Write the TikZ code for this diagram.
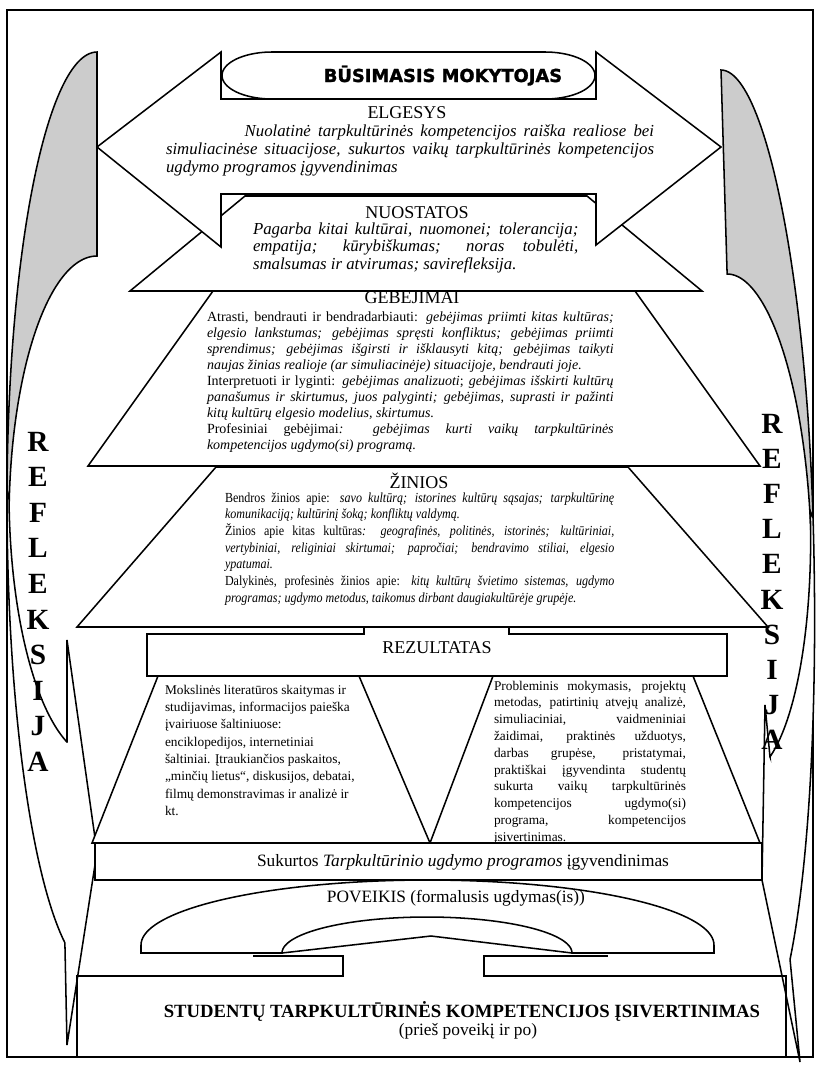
\documentclass[tikz,border=0pt]{standalone}
\usepackage{fontspec}
\setmainfont{Liberation Serif}
\newfontfamily\titlefont[BoldFeatures={FakeBold=1.5}]{DejaVu Sans}
\newfontfamily\condserif[FakeStretch=0.87]{Liberation Serif}
\definecolor{shadegray}{RGB}{204,204,204}
\newlength\bw
\newcommand{\jl}[1]{\hbox to \bw{#1}}
\newcommand{\rl}[1]{\hbox to \bw{#1\hfil}}
\begin{document}
\begin{tikzpicture}[x=0.75pt,y=-0.75pt,line width=1.15pt,
  blk/.style={draw=black,fill=white,line width=1.15pt,line join=miter},
  back/.style={draw=black,fill=shadegray,line width=1.15pt},
  head/.style={inner sep=0,outer sep=0,anchor=base,font=\fontsize{13.5}{15}\selectfont},
  body/.style={inner sep=0,outer sep=0,anchor=base west},
  refl/.style={inner sep=0,outer sep=0,anchor=base,font=\fontsize{22}{26}\selectfont\bfseries}]
\useasboundingbox (0,0) rectangle (816,1089);
% frame
\draw (7,10) rectangle (813,1057);

% ---------- left curved arrow ----------
\path[back] (97,52) -- plot[domain=270:180,samples=60] ({97+90*cos(\x)},{500+448*sin(\x)})
  -- (9,520) -- plot[domain=180:270,samples=60] ({97+88*cos(\x)},{520+264*sin(\x)}) -- cycle;
\path[blk] (7,500) -- plot[domain=180:110.9,samples=60] ({97+90*cos(\x)},{500+474*sin(\x)})
  -- (67,1045) -- (97,852) -- (67,640) -- (67,742)
  -- plot[domain=110:180,samples=60] ({97+88*cos(\x)},{493+265*sin(\x)}) -- cycle;

% ---------- right curved arrow ----------
\path[back] (721,70) -- plot[domain=270:360,samples=60] ({721+0.03*(448+448*sin(\x))+78.6*cos(\x)},{518+448*sin(\x)})
  -- plot[domain=0:-90,samples=60] ({721+0.03*(468+264*sin(\x))+76*cos(\x)},{538+264*sin(\x)}) -- cycle;
\path[blk] (813,518) -- plot[domain=0:57.4,samples=60] ({721+0.03*(448+524*sin(\x))+78.6*cos(\x)},{518+524*sin(\x)})
  -- (800,1062) -- (762,880) -- (765,705) -- (770,757)
  -- plot[domain=68.1:0,samples=60] ({721+0.03*(441+265*sin(\x))+76*cos(\x)},{511+265*sin(\x)}) -- cycle;

% ---------- ZINIOS ----------
\path[blk] (216,467) -- (628,467) -- (768,627) -- (77,627) -- cycle;
\node[head] (zinh) at (419,488) {ŽINIOS};
\node[body,font=\condserif\fontsize{10.4}{12.5}\selectfont] (zinb) at (225,502) {\vtop{\setlength\bw{292pt}%
\jl{Bendros žinios apie: \textit{savo kultūrą; istorines kultūrų sąsajas; tarpkultūrinę}}
\rl{\textit{komunikaciją; kultūrinį šoką; konfliktų valdymą.}}
\jl{Žinios apie kitas kultūras\textit{: geografinės, politinės, istorinės; kultūriniai,}}
\jl{\textit{vertybiniai, religiniai skirtumai; papročiai; bendravimo stiliai, elgesio}}
\rl{\textit{ypatumai.}}
\jl{Dalykinės, profesinės žinios apie: \textit{kitų kultūrų švietimo sistemas, ugdymo}}
\rl{\textit{programas; ugdymo metodus, taikomus dirbant daugiakultūrėje grupėje.}}}};

% ---------- GEBEJIMAI ----------
\path[blk] (213,291) -- (635,291) -- (760,466) -- (88,466) -- cycle;
\node[head] (gebh) at (412,303) {GEBĖJIMAI};
\node[body,font=\fontsize{10.5}{12.05}\selectfont] (gebb) at (207,321) {\vtop{\setlength\bw{305pt}%
\jl{Atrasti, bendrauti ir bendradarbiauti: \textit{gebėjimas priimti kitas kultūras;}}
\jl{\textit{elgesio lankstumas; gebėjimas spręsti konfliktus; gebėjimas priimti}}
\jl{\textit{sprendimus; gebėjimas išgirsti ir išklausyti kitą; gebėjimas taikyti}}
\rl{\textit{naujas žinias realioje (ar simuliacinėje) situacijoje, bendrauti joje.}}
\jl{Interpretuoti ir lyginti: \textit{gebėjimas analizuoti}; \textit{gebėjimas išskirti kultūrų}}
\jl{\textit{panašumus ir skirtumus, juos palyginti; gebėjimas, suprasti ir pažinti}}
\rl{\textit{kitų kultūrų elgesio modelius, skirtumus.}}
\jl{Profesiniai gebėjimai\textit{: gebėjimas kurti vaikų tarpkultūrinės}}
\rl{\textit{kompetencijos ugdymo(si) programą.}}}};

% ---------- NUOSTATOS ----------
\path[blk] (245,196) -- (587,196) -- (702,291) -- (130,291) -- cycle;
\node[head] (nuoh) at (417,218) {NUOSTATOS};
\node[body,font=\fontsize{12.6}{13.4}\selectfont\itshape] (nuob) at (253,234) {\vtop{\setlength\bw{244pt}%
\jl{Pagarba kitai kultūrai, nuomonei; tolerancija;}
\jl{empatija; kūrybiškumas; noras tobulėti,}
\rl{smalsumas ir atvirumas; savirefleksija.}}};

% ---------- ELGESYS double arrow ----------
\path[blk] (97,147) -- (221,52) -- (221,99) -- (596,99) -- (596,52) -- (721,147)
  -- (596,245) -- (596,194) -- (221,194) -- (221,247) -- cycle;
\node[head] (elgh) at (407,118) {ELGESYS};
\node[body,font=\fontsize{12.6}{13.5}\selectfont\itshape] (elgb) at (166,136) {\vtop{\setlength\bw{366pt}%
\jl{\hspace*{59pt}Nuolatinė tarpkultūrinės kompetencijos raiška realiose bei}
\jl{simuliacinėse situacijose, sukurtos vaikų tarpkultūrinės kompetencijos}
\rl{ugdymo programos įgyvendinimas}}};

% title pill
\path[blk] (272,52) -- (545,52) -- plot[domain=-90:90,samples=40] ({545+50*cos(\x)},{75.5+23.5*sin(\x)})
  -- (272,99) -- plot[domain=90:270,samples=40] ({272+50*cos(\x)},{75.5+23.5*sin(\x)}) -- cycle;
\node[inner sep=0,anchor=base,font=\titlefont\bfseries\fontsize{13.4}{15}\selectfont] (title) at (443,82) {BŪSIMASIS MOKYTOJAS};

% ---------- lower trapezoids ----------
\path[blk] (158,676) -- (359,676) -- (430,843) -- (92,843) -- cycle;
\path[blk] (493,676) -- (693,676) -- (760,843) -- (430,843) -- cycle;
\node[body,font=\fontsize{10}{13}\selectfont] (leftt) at (165,694) {\vtop{\setlength\bw{150pt}%
\rl{Mokslinės literatūros skaitymas ir}
\rl{studijavimas, informacijos paieška}
\rl{įvairiuose šaltiniuose:}
\rl{enciklopedijos, internetiniai}
\rl{šaltiniai. Įtraukiančios paskaitos,}
\rl{„minčių lietus“, diskusijos, debatai,}
\rl{filmų demonstravimas ir analizė ir}
\rl{kt.}}};
\node[body,font=\fontsize{10}{12.6}\selectfont] (rightt) at (494,690) {\vtop{\setlength\bw{144pt}%
\jl{Probleminis mokymasis, projektų}
\jl{metodas, patirtinių atvejų analizė,}
\jl{simuliaciniai, vaidmeniniai}
\jl{žaidimai, praktinės užduotys,}
\jl{darbas grupėse, pristatymai,}
\jl{praktiškai įgyvendinta studentų}
\jl{sukurta vaikų tarpkultūrinės}
\jl{kompetencijos ugdymo(si)}
\jl{programa, kompetencijos}
\rl{įsivertinimas.}}};

% ---------- REZULTATAS ----------
\path[blk] (147,634) -- (364,634) -- (364,627) -- (509,627) -- (509,634) -- (727,634) -- (727,676) -- (147,676) -- cycle;
\node[head] (rez) at (437,653) {REZULTATAS};

% ---------- Sukurtos ----------
\path[blk] (95,843) rectangle (762,880);
\node[head,font=\fontsize{13}{15}\selectfont] (suk) at (463,866) {Sukurtos \textit{Tarpkultūrinio ugdymo programos} įgyvendinimas};

% ---------- bottom box ----------
\draw (253,956) -- (343,956) -- (343,976) -- (77,976) -- (77,1057) -- (786,1057) -- (786,976) -- (484,976) -- (484,956) -- (608,956);
\node[head,font=\fontsize{14}{16}\selectfont\bfseries] (stud) at (462,1017) {STUDENTŲ TARPKULTŪRINĖS KOMPETENCIJOS ĮSIVERTINIMAS};
\node[head,font=\fontsize{13}{15}\selectfont] (pries) at (468,1035) {(prieš poveikį ir po)};

% ---------- arch ----------
\path[blk] (141,953) -- (141,945) -- plot[domain=180:360,samples=80] ({427.5+286.5*cos(\x)},{945+65*sin(\x)})
  -- (714,953) -- (572,953) -- plot[domain=360:180,samples=60] ({427+145*cos(\x)},{953+36*sin(\x)}) -- cycle;
\draw (282,953) -- (431,936) -- (572,953);
\node[head,font=\fontsize{13}{15}\selectfont] (pov) at (456,902) {POVEIKIS (formalusis ugdymas(is))};

% ---------- REFLEKSIJA ----------
\foreach \c [count=\i from 0] in {R,E,F,L,E,K,S,I,J,A} {
  \node[refl] (l\i) at (38,{451+35.6*\i}) {\c};
  \node[refl] (r\i) at (772,{433+35.2*\i}) {\c};
}
\end{tikzpicture}
\end{document}
